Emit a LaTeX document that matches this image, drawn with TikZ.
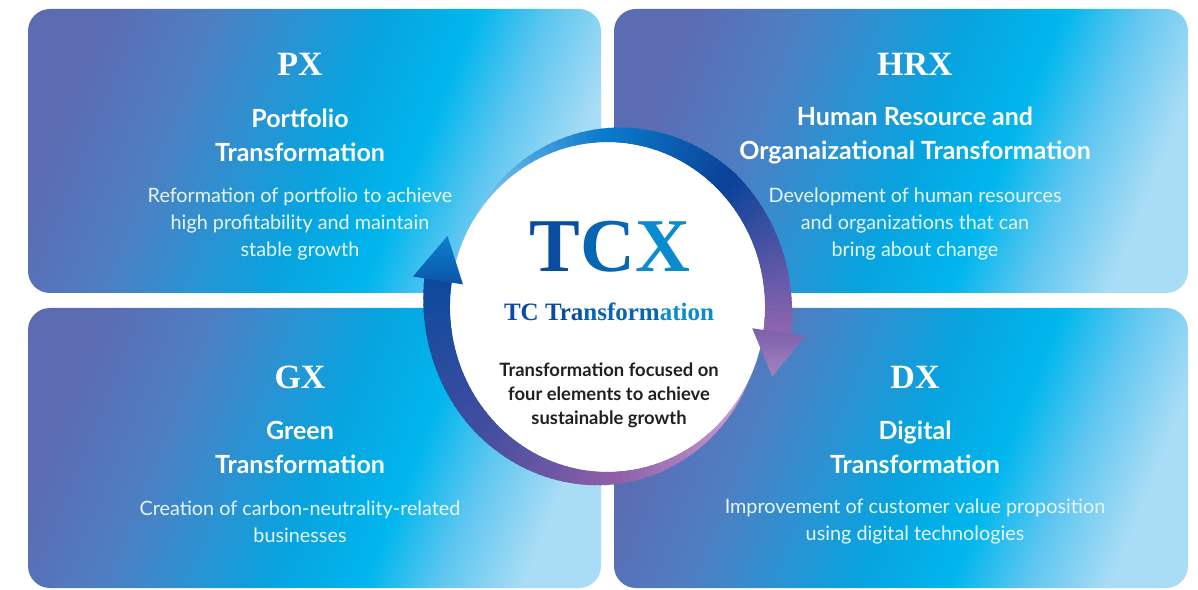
\documentclass[tikz,border=0pt]{standalone}
\usepackage{fontspec}
\usepackage{xcolor}
\usepackage{tikz}
\setmainfont{Lato}
\newfontfamily\capserif{Liberation Serif}
\definecolor{cardA}{HTML}{5B6CB3}
\definecolor{cardB}{HTML}{4E7EC2}
\definecolor{cardC}{HTML}{2894D4}
\definecolor{cardD}{HTML}{08A3DF}
\definecolor{cardE}{HTML}{00B6ED}
\definecolor{cardF}{HTML}{5EC6F0}
\definecolor{cardG}{HTML}{A9DCF5}
\definecolor{skyarc}{HTML}{8ACDF0}
\definecolor{bluearc}{HTML}{0A7ACA}
\definecolor{navyarc}{HTML}{0B4399}
\definecolor{plumarc}{HTML}{8E64AE}
\definecolor{lilacarc}{HTML}{D2A8D6}
\definecolor{violetarc}{HTML}{8B5EA8}
\definecolor{indigoarc}{HTML}{3E4D9F}
\definecolor{deeparc}{HTML}{0D4A9E}
\definecolor{tcxA}{HTML}{0A4C9F}
\definecolor{tcxB}{HTML}{0765B3}
\definecolor{tcxC}{HTML}{0A8BD0}
\definecolor{inktext}{HTML}{231F20}
\pgfdeclarehorizontalshading{cardfade}{100bp}{color(0bp)=(cardA); color(25bp)=(cardA);
    color(35bp)=(cardB); color(44bp)=(cardC); color(51bp)=(cardD); color(60bp)=(cardE);
    color(67bp)=(cardF); color(75bp)=(cardG); color(100bp)=(cardG)}
\newcommand\ringpart[6]{%
    \foreach \k in {0,...,23}{%
        \pgfmathsetmacro\angA{#1+((#2)-(#1))*\k/24}
        \pgfmathsetmacro\angB{#1+((#2)-(#1))*(\k+1.3)/24}
        \pgfmathsetmacro\radA{165+#3+((#4)-(#3))*\k/24}
        \pgfmathsetmacro\radB{165+#3+((#4)-(#3))*(\k+1.3)/24}
        \pgfmathsetmacro\mixP{100*\k/23}
        \fill[#6!\mixP!#5] (\angA:165) -- (\angA:\radA) -- (\angB:\radB) -- (\angB:165) -- cycle;
    }%
}

\begin{document}
\begin{tikzpicture}[x=0.5pt,y=0.5pt,
    card/.style={shading=cardfade,shading angle=-22,rounded corners=11pt},
    code/.style={text=white,font=\capserif\bfseries\fontsize{17}{20}\selectfont},
    title/.style={text=white,align=center,font=\bfseries\fontsize{12.5}{17}\selectfont},
    blurb/.style={text=white!90!cardD,align=center,font=\fontsize{9.9}{13.5}\selectfont}]
    \useasboundingbox (0,0) rectangle (1198,589);
    \fill[white] (0,0) rectangle (1198,589);
    \shade[card] (28,296) rectangle (601,580);
    \shade[card] (614,296) rectangle (1188,580);
    \shade[card] (28,1) rectangle (601,281);
    \shade[card] (614,1) rectangle (1188,281);

    \node[code] (px) at (300,525) {PX};
    \node[title] (pxname) at (300,454) {Portfolio\\Transformation};
    \node[blurb] (pxtext) at (300,365) {Reformation of portfolio to achieve\\high profitability and maintain\\stable growth};
    \node[code] (hrx) at (915,525) {HRX};
    \node[title] (hrxname) at (915,454) {Human Resource and\\Organaizational Transformation};
    \node[blurb] (hrxtext) at (915,365) {Development of human resources\\and organizations that can\\bring about change};
    \node[code] (gx) at (300,212) {GX};
    \node[title] (gxname) at (300,142) {Green\\Transformation};
    \node[blurb] (gxtext) at (300,67) {Creation of carbon-neutrality-related\\businesses};
    \node[code] (dx) at (915,212) {DX};
    \node[title] (dxname) at (915,142) {Digital\\Transformation};
    \node[blurb] (dxtext) at (915,67) {Improvement of customer value proposition\\using digital technologies};

    \begin{scope}[shift={(607.5,282)},xscale=0.955]
        \fill[white] (0,0) circle (165);
        \ringpart{148}{90}{0}{14}{skyarc}{bluearc}
        \ringpart{90}{45}{14}{24}{bluearc}{navyarc}
        \ringpart{45}{-8}{24}{29}{navyarc}{plumarc}
        \shade[top color=plumarc!85!navyarc,bottom color=plumarc!80!white] (-8:153) -- (-8:209) -- (-22:186) -- cycle;
        \ringpart{-26}{-90}{0}{13}{lilacarc}{violetarc}
        \ringpart{-90}{-140}{13}{22}{violetarc}{indigoarc}
        \ringpart{-140}{-188.5}{22}{29}{indigoarc}{deeparc}
        \shade[bottom color=deeparc!80!bluearc,top color=bluearc!80!cardD] (171.5:153) -- (171.5:206) -- (157:182) -- cycle;
    \end{scope}

    \node[font=\capserif\bfseries\fontsize{38}{40}\selectfont] (tcx) at (610,342) {\textcolor{tcxA}{T}\textcolor{tcxB}{C}\textcolor{tcxC}{X}};
    \node[font=\capserif\bfseries\fontsize{12.5}{14}\selectfont] (tcxname) at (609,277) {\textcolor{tcxA}{TC Tra}\textcolor{tcxB}{nsform}\textcolor{tcxC}{ation}};
    \node[text=inktext,align=center,font=\bfseries\fontsize{9.2}{12}\selectfont] (tcxtext) at (609,194) {Transformation focused on\\four elements to achieve\\sustainable growth};
\end{tikzpicture}
\end{document}
